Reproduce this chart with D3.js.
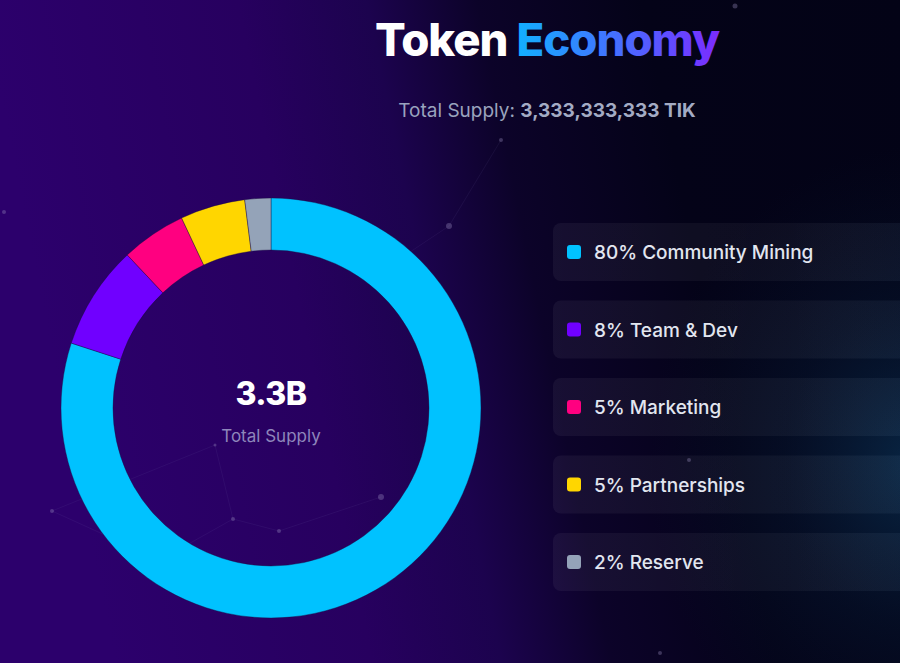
<!DOCTYPE html>
<html>
<head>
<meta charset="utf-8">
<script src="https://cdn.jsdelivr.net/npm/d3@7"></script>
<style>
  html, body { margin: 0; padding: 0; background: #05031a; overflow: hidden; }
  svg { display: block; }
</style>
</head>
<body>
<svg id="chart" width="900" height="663"></svg>
<script>
const categories = ["Community Mining", "Team & Dev", "Marketing", "Partnerships", "Reserve"];
const values = [80, 8, 5, 5, 2];
const colors = ["#00C2FF", "#7000FF", "#FF0080", "#FFD600", "#94A3B8"];
const titleWords = ["Token", "Economy"];
const subtitleLabel = "Total Supply: ";
const subtitleValue = "3,333,333,333 TIK";
const centerValue = "3.3B";
const centerLabel = "Total Supply";
// decorative background network
const nodes = [[735,6,2.5],[4,212,2],[501,140,2],[449,226,3],[381,497,3],[52,511,2],[279,531,2],[233,519,2],[660,653,2],[689,460,2],[215,445,1.5],[398,260,1.5],[160,560,1.5]];
const links = [[3,2],[3,11],[6,4],[7,6],[7,10],[5,12],[12,7],[10,5]];

const svg = d3.select("#chart");
const W = 900, H = 663;
const defs = svg.append("defs");

// background
const bg = defs.append("linearGradient").attr("id","bg").attr("x1","0").attr("y1","0.15").attr("x2","1").attr("y2","0");
bg.append("stop").attr("offset","0").attr("stop-color","#2c006c");
bg.append("stop").attr("offset","0.28").attr("stop-color","#27005f");
bg.append("stop").attr("offset","0.42").attr("stop-color","#1c034e");
bg.append("stop").attr("offset","0.54").attr("stop-color","#0c0329");
bg.append("stop").attr("offset","0.72").attr("stop-color","#040318");
bg.append("stop").attr("offset","1").attr("stop-color","#030316");
svg.append("rect").attr("width",W).attr("height",H).attr("fill","url(#bg)");

const glow = defs.append("radialGradient").attr("id","glow").attr("cx","1.02").attr("cy","0.7")
  .attr("r","0.3").attr("gradientTransform","translate(1.02,0.7) scale(1,1.6) translate(-1.02,-0.7)");
glow.append("stop").attr("offset","0").attr("stop-color","#0b3558").attr("stop-opacity",0.7);
glow.append("stop").attr("offset","0.5").attr("stop-color","#082440").attr("stop-opacity",0.3);
glow.append("stop").attr("offset","1").attr("stop-color","#061830").attr("stop-opacity",0);
svg.append("rect").attr("width",W).attr("height",H).attr("fill","url(#glow)");

// network
const net = svg.append("g");
net.selectAll("line").data(links).join("line")
  .attr("x1", d => nodes[d[0]][0]).attr("y1", d => nodes[d[0]][1])
  .attr("x2", d => nodes[d[1]][0]).attr("y2", d => nodes[d[1]][1])
  .attr("stroke","#8a7ac0").attr("stroke-opacity",0.09).attr("stroke-width",1);
net.selectAll("circle").data(nodes).join("circle")
  .attr("cx", d => d[0]).attr("cy", d => d[1]).attr("r", d => d[2])
  .attr("fill","#9a90c0").attr("fill-opacity",0.35);

// title
const tg = defs.append("linearGradient").attr("id","tg").attr("gradientUnits","userSpaceOnUse")
  .attr("x1",517).attr("y1",0).attr("x2",718).attr("y2",0);
tg.append("stop").attr("offset","0").attr("stop-color","#12B0FF");
tg.append("stop").attr("offset","1").attr("stop-color","#7A2CFF");
const title = svg.append("text").attr("x",547).attr("y",56).attr("text-anchor","middle")
  .attr("font-family","Inter, 'Noto Sans', sans-serif").attr("font-weight",800)
  .attr("font-size",45.5).attr("letter-spacing",-1);
title.append("tspan").attr("fill","#ffffff").text(titleWords[0] + " ");
title.append("tspan").attr("fill","url(#tg)").text(titleWords[1]);

// subtitle
const sub = svg.append("text").attr("x",547).attr("y",117).attr("text-anchor","middle")
  .attr("font-family","Inter, 'Noto Sans', sans-serif").attr("font-size",19).attr("fill","#9aa3bd");
sub.append("tspan").attr("font-weight",400).text(subtitleLabel);
sub.append("tspan").attr("font-weight",700).attr("fill","#a3abc4").text(subtitleValue);

// donut
const cx = 271, cy = 408;
const pie = d3.pie().sort(null).value(d => d)(values);
const arc = d3.arc().innerRadius(158).outerRadius(210);
const donut = svg.append("g").attr("transform", `translate(${cx},${cy})`);
donut.selectAll("path").data(pie).join("path")
  .attr("d", arc).attr("fill", (d,i) => colors[i])
  .attr("stroke","#1a0a40").attr("stroke-width",0.4);

svg.append("text").attr("x",cx).attr("y",405).attr("text-anchor","middle")
  .attr("font-family","Inter, 'Noto Sans', sans-serif").attr("font-weight",800).attr("font-size",32)
  .attr("letter-spacing",-0.5).attr("fill","#ffffff").text(centerValue);
svg.append("text").attr("x",cx).attr("y",442).attr("text-anchor","middle")
  .attr("font-family","Inter, 'Noto Sans', sans-serif").attr("font-size",17)
  .attr("fill","#8e86bb").text(centerLabel);

// legend
const lg = defs.append("linearGradient").attr("id","lg").attr("x1","0").attr("y1","0").attr("x2","1").attr("y2","0");
lg.append("stop").attr("offset","0").attr("stop-color","#ffffff").attr("stop-opacity",0.05);
lg.append("stop").attr("offset","0.55").attr("stop-color","#ffffff").attr("stop-opacity",0.04);
lg.append("stop").attr("offset","1").attr("stop-color","#2a6aa0").attr("stop-opacity",0.1);
const ly = d3.scalePoint().domain(categories).range([252, 562]);
const leg = svg.append("g").selectAll("g").data(categories).join("g")
  .attr("transform", d => `translate(553,${ly(d)})`);
leg.append("rect").attr("x",0).attr("y",-29).attr("width",430).attr("height",58).attr("rx",8)
  .attr("fill","url(#lg)");
leg.append("rect").attr("x",14).attr("y",-7).attr("width",14).attr("height",14).attr("rx",3)
  .attr("fill",(d,i) => colors[i]);
leg.append("text").attr("x",41).attr("y",7)
  .attr("font-family","Inter, 'Noto Sans', sans-serif").attr("font-weight",500).attr("font-size",19)
  .attr("fill","#e2e6f0").text((d,i) => `${values[i]}% ${d}`);
</script>
</body>
</html>
